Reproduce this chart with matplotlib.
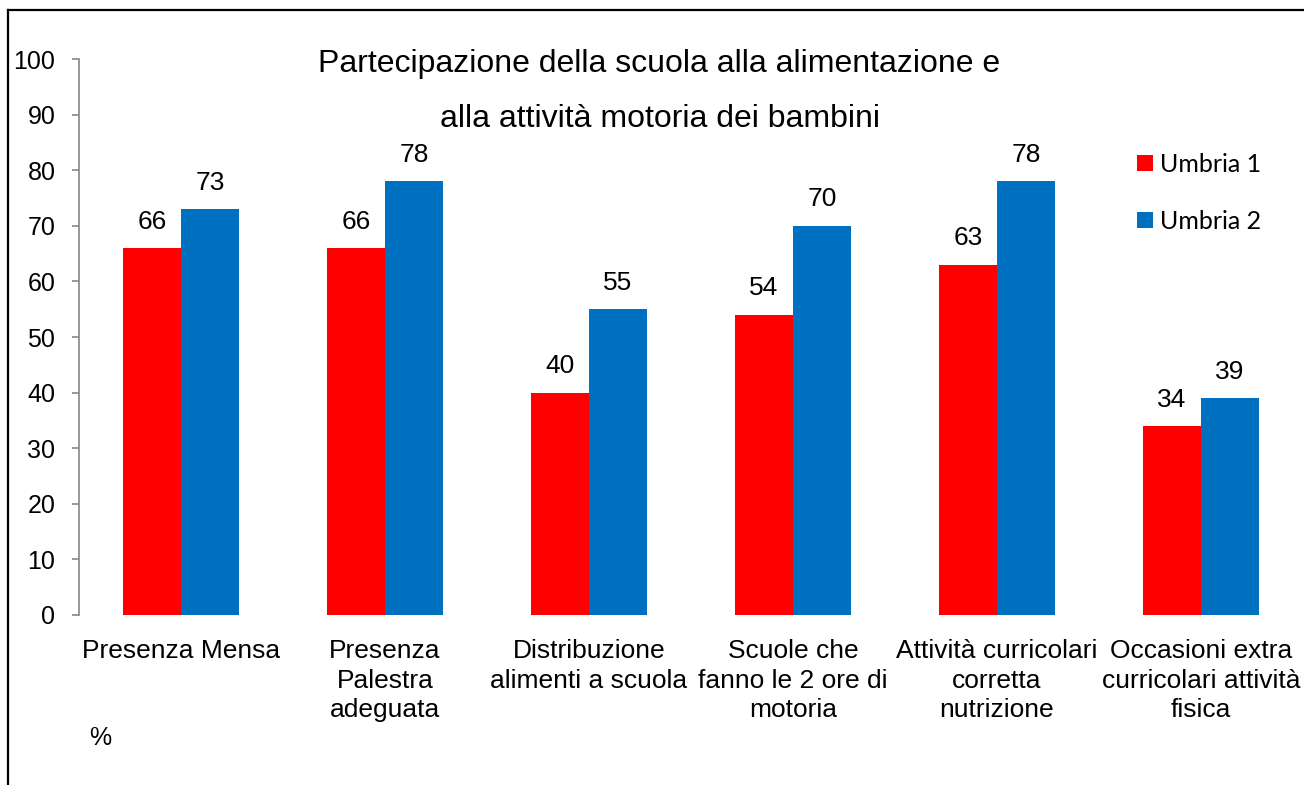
import matplotlib
matplotlib.use("Agg")
import matplotlib.pyplot as plt
from matplotlib.lines import Line2D
import numpy as np

# Data
categories = ["Presenza Mensa",
              "Presenza\nPalestra\nadeguata",
              "Distribuzione\nalimenti a scuola",
              "Scuole che\nfanno le 2 ore di\nmotoria",
              "Attività curricolari\ncorretta\nnutrizione",
              "Occasioni extra\ncurricolari attività\nfisica"]
umbria_1 = [66, 66, 40, 54, 63, 34]
umbria_2 = [73, 78, 55, 70, 78, 39]
series_names = ["Umbria 1", "Umbria 2"]
y_ticks = [0, 10, 20, 30, 40, 50, 60, 70, 80, 90, 100]

RED = "#FF0000"
BLUE = "#0070C0"
GREY = "#868686"
BAR_W = 0.284
W, H = 1304, 785

plt.rcParams['font.family'] = ['Liberation Sans', 'DejaVu Sans']

fig = plt.figure(figsize=(W / 100, H / 100), dpi=100)
ax = fig.add_axes([79 / W, 1 - 615 / H, (1303 - 79) / W, (615 - 59) / H])

x = np.arange(len(categories))
b1 = ax.bar(x - BAR_W, umbria_1, BAR_W, align='edge', color=RED,
            label=series_names[0])
b2 = ax.bar(x, umbria_2, BAR_W, align='edge', color=BLUE,
            label=series_names[1])

# value labels above each bar
for bars, vals in ((b1, umbria_1), (b2, umbria_2)):
    for rect, v in zip(bars, vals):
        ax.annotate(str(v), (rect.get_x() + rect.get_width() / 2, v),
                    xytext=(0, 19), textcoords='offset points',
                    ha='center', va='center', fontsize=19)

ax.set_xlim(-0.5, len(categories) - 0.5)
ax.set_ylim(0, 100)
ax.set_yticks(y_ticks)
ax.tick_params(axis='y', labelsize=18, length=5, width=1.2, color=GREY,
               pad=12)
ax.set_xticks(x)
ax.set_xticklabels(categories, fontsize=19, linespacing=1.31)
ax.tick_params(axis='x', length=0, pad=17)

for s in ('top', 'right', 'bottom'):
    ax.spines[s].set_visible(False)
ax.spines['left'].set_color(GREY)
ax.spines['left'].set_linewidth(1.2)

# legend on the right
leg = ax.legend(loc='upper left', bbox_to_anchor=(1137 / W, 1 - 153 / H),
                bbox_transform=fig.transFigure, frameon=False,
                prop={'family': 'Lato', 'size': 18},
                handlelength=0.62, handleheight=0.62, handletextpad=0.3,
                labelspacing=1.36, borderaxespad=0, borderpad=0)

# title in two lines
fig.text(659 / W, 1 - 72 / H, "Partecipazione della scuola alla alimentazione e",
         ha='center', va='baseline', fontsize=23)
fig.text(660 / W, 1 - 127 / H, "alla attività motoria dei bambini",
         ha='center', va='baseline', fontsize=23)

fig.text(100 / W, 1 - 738 / H, "%", ha='center', va='center', fontsize=18)

# outer frame (left and top edges)
fig.add_artist(Line2D([7.5 / W, 7.5 / W], [0, 1 - 10 / H], color='black',
                      lw=1.6, transform=fig.transFigure))
fig.add_artist(Line2D([7.5 / W, 1], [1 - 10 / H, 1 - 10 / H], color='black',
                      lw=1.6, transform=fig.transFigure))

fig.savefig("out.png", dpi=100)
